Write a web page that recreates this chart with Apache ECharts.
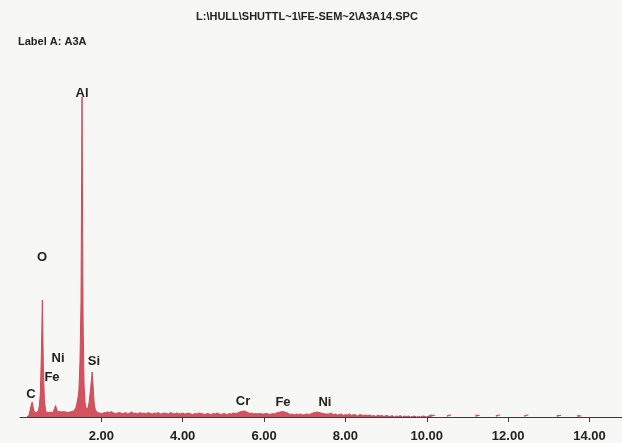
<!DOCTYPE html>
<html>
<head>
    <meta charset="utf-8">
    <title>A3A14.SPC</title>
    <script src="https://cdn.jsdelivr.net/npm/echarts@6/dist/echarts.min.js"></script>
    <style>
        html, body { margin: 0; padding: 0; background: #f7f7f5; }
        #chart1 { width: 622px; height: 443px; }
    </style>
</head>
<body>
<div id="chart1"></div>
<script type="text/javascript">
    // spectrum, counts per channel (three blocks with their own channel width, keV)
    var lowStart = 0.175, lowStep = 0.025;
    var lowCounts = [
        0, 0, 25, 70, 120, 150, 95, 50, 35, 45,
        40, 60, 110, 230, 620, 1170, 480, 170, 75, 45,
        35, 45, 40, 50, 45, 40, 55, 85, 115, 80,
        50, 45, 55, 40, 50, 45, 55, 40, 50, 60,
        45, 55, 50, 60, 55, 65, 60, 75, 95, 140,
        190, 280, 560, 1150, 3200, 980, 320, 140, 85, 70,
        90, 150, 240, 340, 450, 290, 130, 75, 55, 45,
        50, 40, 45, 35, 45, 40, 35, 45, 40, 50,
        35, 45, 40, 55, 45, 40, 50, 35, 45, 40,
        35, 45, 40, 35, 40
    ];
    var midStart = 2.55, midStep = 0.05;
    var midCounts = [
        35, 45, 30, 40, 50, 35, 40, 30, 45, 35,
        40, 30, 45, 35, 30, 40, 35, 45, 30, 35,
        40, 35, 30, 45, 35, 30, 40, 35, 30, 40,
        30, 35, 40, 30, 25, 35, 30, 40, 35, 30,
        25, 35, 30, 25, 35, 30, 40, 30, 25, 35,
        30, 25, 35, 30, 40, 35, 40, 50, 55, 60,
        55, 45, 35, 40, 30, 35, 30, 35, 30, 30,
        35, 30, 25, 35, 30, 40, 45, 50, 55, 50,
        45, 35, 25, 30, 20, 30, 25, 30, 20, 25,
        30, 25, 30, 40, 45, 50, 45, 40, 35, 30,
        30, 30, 40, 25, 30, 20, 25, 30, 15, 25,
        20, 30, 15, 25, 20, 10, 25, 20, 15, 20,
        15, 20, 10, 15, 5, 20, 10, 15, 5, 15,
        10, 5, 15, 0, 10, 5, 15, 0, 10, 5,
        10, 0, 5, 10, 0, 5, 0, 10, 5, 0
    ];
    var tailStart = 10.1, tailStep = 0.1;
    var tailCounts = [
        20, 15, null, null, 15, 20, null, null, 15, null,
        null, 20, 15, null, null, null, 15, 20, null, null,
        null, null, null, 15, 20, null, null, null, null, null,
        null, 15, 15, null, null, null, 15, 10, null, null,
        null, null, null, null, null, null, null
    ];

    // element labels
    var labelNames = ['Al', 'O', 'C', 'Fe', 'Ni', 'Si', 'Cr', 'Fe', 'Ni'];
    var labelEnergy = [1.524, 0.541, 0.27, 0.787, 0.934, 1.819, 5.482, 6.465, 7.498];
    var labelCounts = [3240, 1600, 230, 400, 590, 560, 160, 150, 150];

    var tickValues = [2, 4, 6, 8, 10, 12, 14];

    var fontNarrow = '"Liberation Sans Narrow", "Arial Narrow", "Liberation Sans", sans-serif';

    function block(start, step, counts) {
        return counts.map(function (c, i) {
            return [+(start + i * step).toFixed(3), c];
        });
    }
    var spectrum = block(lowStart, lowStep, lowCounts)
        .concat(block(midStart, midStep, midCounts))
        .concat(block(tailStart, tailStep, tailCounts));

    var labelData = labelNames.map(function (n, i) {
        return { name: n, value: [labelEnergy[i], labelCounts[i]] };
    });

    var myChart1 = echarts.init(document.getElementById('chart1'));
    myChart1.setOption({
        backgroundColor: '#f7f7f5',
        animation: false,
        title: [
            {
                text: 'L:\\HULL\\SHUTTL~1\\FE-SEM~2\\A3A14.SPC',
                left: 196, top: 11, padding: 0,
                textStyle: { fontFamily: fontNarrow, fontSize: 11, fontWeight: 'bold', color: '#222' }
            },
            {
                text: 'Label A: A3A',
                left: 18, top: 36, padding: 0,
                textStyle: { fontFamily: fontNarrow, fontSize: 11, fontWeight: 'bold', color: '#222' }
            }
        ],
        grid: { left: 20, right: 0, top: 97, bottom: 21 },
        xAxis: [
            {
                type: 'value',
                min: 0, max: 14.8,
                splitLine: { show: false },
                axisLine: { lineStyle: { color: '#3a3a3a', width: 1 } },
                axisTick: { show: true, customValues: tickValues, length: 3, lineStyle: { color: '#3a3a3a' } },
                axisLabel: {
                    customValues: tickValues,
                    margin: 8,
                    fontFamily: fontNarrow, fontSize: 13, fontWeight: 'bold', color: '#222',
                    formatter: function (v) { return v.toFixed(2); }
                }
            },
            {
                type: 'value',
                min: 0, max: 14.8,
                position: 'bottom',
                splitLine: { show: false },
                axisLine: { show: false },
                axisTick: { show: true, inside: true, customValues: tickValues, length: 4, lineStyle: { color: '#3a3a3a' } },
                axisLabel: { show: false }
            }
        ],
        yAxis: {
            type: 'value',
            min: -50, max: 3200,
            show: false,
            splitLine: { show: false }
        },
        series: [
            {
                type: 'line',
                data: spectrum,
                showSymbol: false,
                connectNulls: false,
                lineStyle: { color: '#cf4a5a', width: 1 },
                areaStyle: { color: '#d4525f', origin: 0, opacity: 1 },
                z: 2
            },
            {
                type: 'scatter',
                data: labelData,
                symbolSize: 2,
                itemStyle: { color: 'rgba(0,0,0,0)', opacity: 1 },
                clip: false,
                label: {
                    show: true,
                    position: 'inside',
                    formatter: '{b}',
                    fontFamily: fontNarrow, fontSize: 13, fontWeight: 'bold', color: '#222'
                },
                z: 3
            }
        ]
    });
</script>
</body>
</html>
